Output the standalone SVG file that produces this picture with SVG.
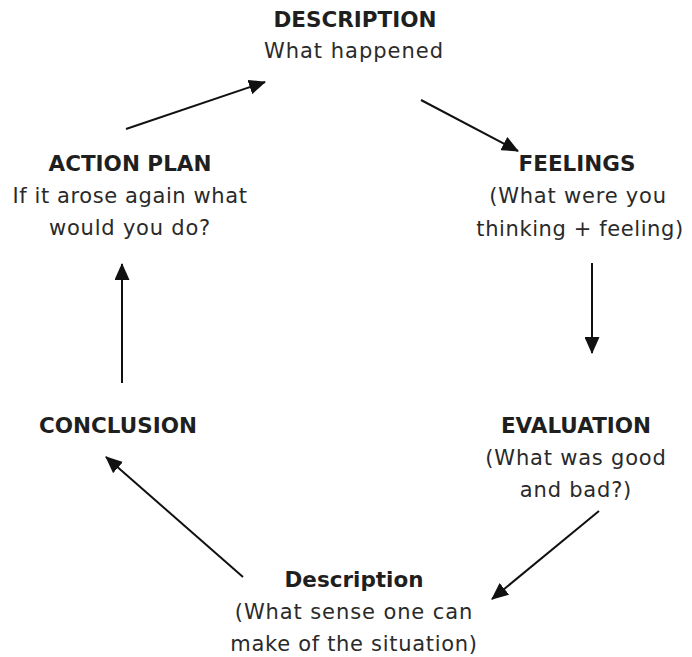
<svg xmlns="http://www.w3.org/2000/svg" width="692" height="657" viewBox="0 0 692 657">
<defs>
<marker id="ah" markerWidth="17" markerHeight="15" refX="16" refY="7.5" orient="auto" markerUnits="userSpaceOnUse">
<path d="M0,0 L17,7.5 L0,15 Z" fill="#111"/>
</marker>
<style>
text{font-family:"DejaVu Sans","Liberation Sans",sans-serif;font-size:21px;fill:#2a2a2a;text-anchor:middle}
.t{font-weight:bold;fill:#1f1f1f;font-size:21.5px}
.c{stroke:#111;stroke-width:2;fill:none;marker-end:url(#ah)}
</style>
</defs>
<rect width="692" height="657" fill="#fff"/>
<g id="description">
<text class="t" x="355" y="27">DESCRIPTION</text>
<text x="354" y="58" letter-spacing="1">What happened</text>
</g>
<g id="feelings">
<text class="t" x="577" y="171">FEELINGS</text>
<text x="578" y="203" letter-spacing="0.8">(What were you</text>
<text x="580" y="236" letter-spacing="0.6">thinking + feeling)</text>
</g>
<g id="evaluation">
<text class="t" x="576" y="433">EVALUATION</text>
<text x="576" y="465" letter-spacing="0.8">(What was good</text>
<text x="576" y="497" letter-spacing="0.8">and bad?)</text>
</g>
<g id="analysis">
<text class="t" x="354" y="587">Description</text>
<text x="354" y="619" letter-spacing="0.9">(What sense one can</text>
<text x="354" y="651" letter-spacing="0.7">make of the situation)</text>
</g>
<g id="conclusion">
<text class="t" x="118" y="433">CONCLUSION</text>
</g>
<g id="action-plan">
<text class="t" x="130" y="171">ACTION PLAN</text>
<text x="130" y="203" letter-spacing="0.6">If it arose again what</text>
<text x="130" y="235" letter-spacing="0.8">would you do?</text>
</g>
<g id="connectors">
<line class="c" x1="126" y1="129" x2="265" y2="82"/>
<line class="c" x1="421" y1="100" x2="518" y2="151"/>
<line class="c" x1="592" y1="263" x2="592" y2="353"/>
<line class="c" x1="599" y1="511" x2="492" y2="599"/>
<line class="c" x1="243" y1="577" x2="106" y2="457"/>
<line class="c" x1="122" y1="383" x2="122" y2="264"/>
</g>
</svg>
